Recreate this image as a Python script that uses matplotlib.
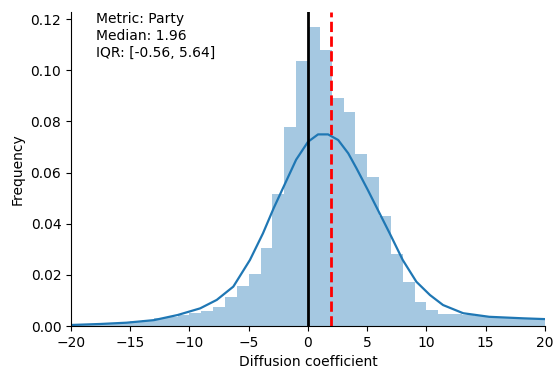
import numpy as np
import matplotlib
matplotlib.use("Agg")
import matplotlib.pyplot as plt

# Histogram bins (left edges, width 1) and densities
bin_left = list(range(-20, 20))
bin_height = [0.0005, 0.0006, 0.0008, 0.0012, 0.0015, 0.0020, 0.0025, 0.0030, 0.0036, 0.0044,
              0.0050, 0.0059, 0.0075, 0.0113, 0.0156, 0.0203, 0.0305, 0.0516, 0.0777, 0.1035,
              0.1169, 0.1078, 0.0891, 0.0836, 0.0672, 0.0582, 0.0430, 0.0281, 0.0172, 0.0094,
              0.00625, 0.0047, 0.0047, 0.0043, 0.0040, 0.0037, 0.0035, 0.0033, 0.0033, 0.0033]

# KDE curve
kde_x = [-20, -17.5, -15.3, -13, -11, -9.1, -7.7, -6.3, -4.9, -3.8, -2.9, -1.8, -1.0, 0,
         0.85, 1.7, 2.55, 3.4, 4.1, 5.06, 6.05, 6.9, 8.0, 9.15, 10.3, 11.4, 13.1, 15.3, 18.2, 20]
kde_y = [0.0004, 0.0008, 0.0013, 0.0023, 0.0043, 0.0069, 0.0102, 0.0154, 0.0258, 0.0362,
         0.0460, 0.0570, 0.0650, 0.0720, 0.0749, 0.0749, 0.0727, 0.0675, 0.0616, 0.0531,
         0.0440, 0.0362, 0.0258, 0.0173, 0.0121, 0.0082, 0.0050, 0.0036, 0.0030, 0.0027]

median = 1.96
iqr = (-0.56, 5.64)
metric = "Party"

fig = plt.figure(figsize=(5.53, 3.69), dpi=100)
ax = fig.add_axes([0.1284, 0.1165, 0.857, 0.851])

ax.bar(bin_left, bin_height, width=1.0, align="edge", color="C0", alpha=0.4, linewidth=0)
ax.plot(kde_x, kde_y, color="C0", lw=1.6)
ax.axvline(0, color="black", lw=2)
ax.axvline(median, color="red", ls="--", lw=2)

ax.set_xlim(-20, 20)
ax.set_ylim(0, max(bin_height) * 1.05)
ax.set_xlabel("Diffusion coefficient")
ax.set_ylabel("Frequency")
ax.spines["top"].set_visible(False)
ax.spines["right"].set_visible(False)

ax.text(0.053, 1.0, f"Metric: {metric}\nMedian: {median:.2f}\nIQR: [{iqr[0]:.2f}, {iqr[1]:.2f}]",
        transform=ax.transAxes, va="top", ha="left", fontsize=10, linespacing=1.25)

fig.savefig("out.png", dpi=100)
